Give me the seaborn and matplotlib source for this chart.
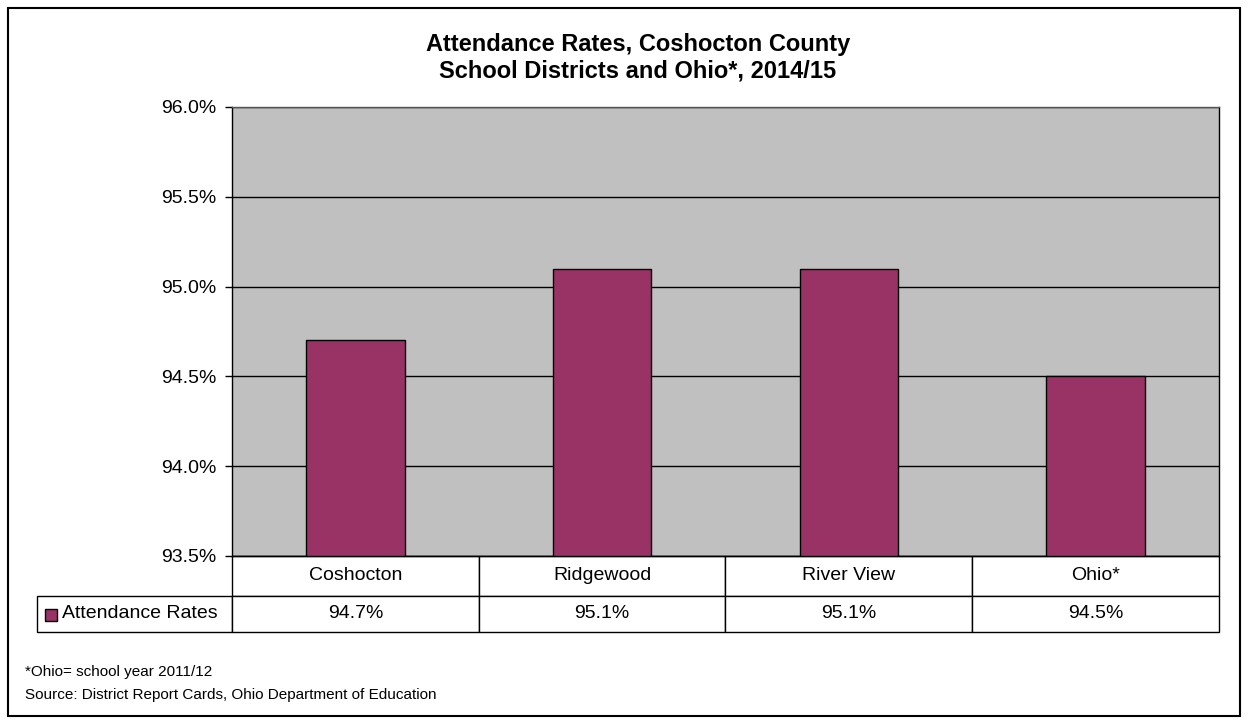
import matplotlib
matplotlib.use("Agg")
import matplotlib.pyplot as plt
from matplotlib.patches import Rectangle
from matplotlib.ticker import FuncFormatter
import seaborn as sns

districts = ["Coshocton", "Ridgewood", "River View", "Ohio*"]
attendance = [94.7, 95.1, 95.1, 94.5]
series_name = "Attendance Rates"
title = "Attendance Rates, Coshocton County\nSchool Districts and Ohio*, 2014/15"
notes = ["*Ohio= school year 2011/12",
         "Source: District Report Cards, Ohio Department of Education"]

bar_color = "#993366"

sns.set_style("white")
plt.rcParams["font.family"] = ["Liberation Sans", "DejaVu Sans"]
plt.rcParams["text.color"] = "black"
plt.rcParams["ytick.color"] = "black"

W, H = 1250, 724
fig = plt.figure(figsize=(W / 100, H / 100), dpi=100)
# plot area in pixels: x 232..1219, y 107..556
ax = fig.add_axes([232 / W, 1 - 556 / H, (1219 - 232) / W, (556 - 107) / H])
ax.set_facecolor("#C0C0C0")

sns.barplot(x=districts, y=attendance, color=bar_color, width=0.4,
            edgecolor="black", linewidth=1, saturation=1, ax=ax)

ax.set_ylim(93.5, 96.0)
ax.set_yticks([93.5, 94.0, 94.5, 95.0, 95.5, 96.0])
ax.yaxis.set_major_formatter(FuncFormatter(lambda v, p: f"{v:.1f}%"))
ax.grid(axis="y", color="black", linewidth=1)
ax.set_axisbelow(True)
ax.tick_params(axis="y", left=True, length=5, width=1, color="black",
               labelsize=14, labelcolor="black", pad=6)
ax.tick_params(axis="x", bottom=False, labelbottom=False)
ax.set_xlabel("")
ax.set_ylabel("")
for s in ax.spines.values():
    s.set_color("black")
    s.set_linewidth(1)
ax.spines["top"].set_color("#555555")

# data table under the plot (sizes in axes fractions)
ax_w = 1219 - 232
ax_h = 556 - 107
lab_w = (232 - 41) / ax_w
col_w = 1.0 / len(districts)
hdr_h = (596 - 556) / ax_h
row_h = (632 - 596) / ax_h
# bbox covers only the data grid; the row label column hangs to the left
tbl = ax.table(cellText=[[f"{v:.1f}%" for v in attendance]],
               rowLabels=[series_name], colLabels=districts,
               cellLoc="center", rowLoc="left",
               bbox=[0, -(hdr_h + row_h), 1, hdr_h + row_h])
tbl.auto_set_font_size(False)
tbl.set_fontsize(14)
for (r, c), cell in tbl.get_celld().items():
    cell.set_edgecolor("black")
    cell.set_linewidth(1)
    cell.set_facecolor("white")
    cell.set_width(lab_w if c == -1 else col_w)
    cell.set_height(hdr_h if r == 0 else row_h)
    cell.get_text().set_color("black")
    if c == -1:
        cell.PAD = 0.125

# legend key in the row label cell
ax.add_patch(Rectangle(((45 - 232) / ax_w, (556 - 621) / ax_h), 12 / ax_w, 12 / ax_h,
                       facecolor=bar_color, edgecolor="black", linewidth=1,
                       transform=ax.transAxes, clip_on=False))

fig.text(638 / W, 1 - 58 / H, title, ha="center", va="center", color="black",
         fontsize=17, fontweight="bold", linespacing=1.2)
for i, note in enumerate(notes):
    fig.text(25 / W, 1 - (672 + 23 * i) / H, note, ha="left", va="center",
             fontsize=11, color="black")

fig.add_artist(Rectangle((8 / W, 8 / H), (1240 - 8) / W, (716 - 8) / H,
                         fill=False, edgecolor="black", linewidth=1.5,
                         transform=fig.transFigure))

fig.savefig("out.png", dpi=100)
